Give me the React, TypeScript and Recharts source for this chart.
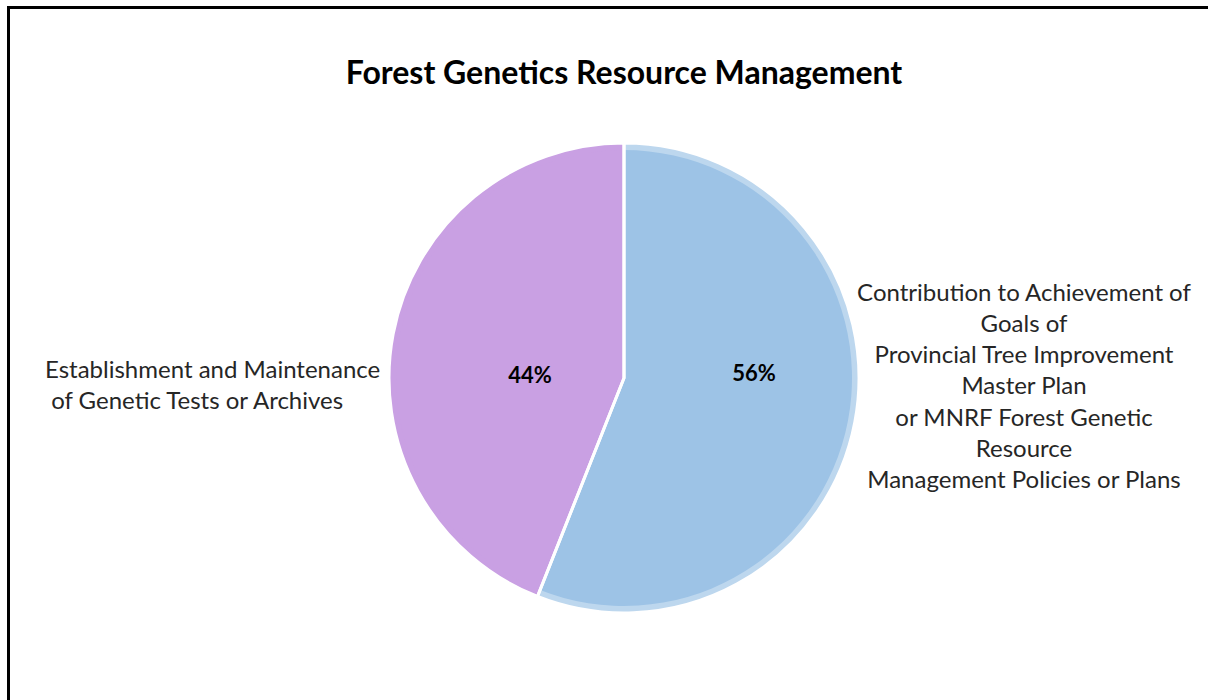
import { PieChart, Pie, Cell } from 'recharts';

// categories, in drawing order (clockwise from 12 o'clock)
const CATEGORIES = [
  'Contribution to Achievement of Goals of Provincial Tree Improvement Master Plan or MNRF Forest Genetic Resource Management Policies or Plans',
  'Establishment and Maintenance of Genetic Tests or Archives',
];
const SHARES = [56, 44];
const PERCENT_LABELS = ['56%', '44%'];

// how the category names wrap in the picture
const NAME_LINES = [
  [
    'Contribution to Achievement of',
    'Goals of',
    'Provincial Tree Improvement',
    'Master Plan',
    'or MNRF Forest Genetic',
    'Resource',
    'Management Policies or Plans',
  ],
  ['Establishment and Maintenance', ' of Genetic Tests or Archives'],
];

const TITLE = 'Forest Genetics Resource Management';

const FILLS = ['#9DC3E6', '#C9A0E3'];
const RIMS = ['#BDD7EE', '#C9A0E3'];
const FONT = 'Lato, "Open Sans", sans-serif';
const LINE_H = 31.3;
const NAME_SIZE = 24;
const TEXT = '#262626';

// chart margin is 5, so the pie centre sits at (624, 378) on the page
const CX = 619;
const CY = 373;
const R = 232;

const chartData = CATEGORIES.map((name, i) => ({
  name,
  value: SHARES[i],
  pct: PERCENT_LABELS[i],
  lines: NAME_LINES[i],
}));

function SliceLabel(props: any) {
  const { cx, cy, index, payload } = props;
  const r = R;
  const lines: string[] = payload.lines;
  if (index === 0) {
    const x = cx + r + 168;
    const top = cy - 87;
    return (
      <g>
        <text x={cx + r * 0.56} y={cy - 6} textAnchor="middle" dominantBaseline="central"
          fontFamily={FONT} fontSize={22} fontWeight={700} fill="#000">
          {payload.pct}
        </text>
        {lines.map((l, i) => (
          <text key={i} x={x} y={top + i * LINE_H} textAnchor="middle" dominantBaseline="central"
            fontFamily={FONT} fontSize={NAME_SIZE} fill={TEXT}>
            {l}
          </text>
        ))}
      </g>
    );
  }
  const x = cx - r - 347;
  const top = cy - 10;
  return (
    <g>
      <text x={cx - r * 0.405} y={cy - 4} textAnchor="middle" dominantBaseline="central"
        fontFamily={FONT} fontSize={22} fontWeight={700} fill="#000">
        {payload.pct}
      </text>
      {lines.map((l, i) => (
        <text key={i} x={x} y={top + i * LINE_H} textAnchor="start" dominantBaseline="central"
          fontFamily={FONT} fontSize={NAME_SIZE} fill={TEXT} style={{ whiteSpace: 'pre' }}>
          {l}
        </text>
      ))}
    </g>
  );
}

export default function App() {
  return (
    <div style={{ position: 'absolute', left: 0, top: 0, width: 1208, height: 700, overflow: 'hidden', background: '#fff' }}>
      <div
        style={{
          position: 'absolute',
          left: 7,
          top: 6,
          width: 1300,
          height: 800,
          border: '3px solid #000',
          boxSizing: 'border-box',
        }}
      />
      <div style={{ position: 'absolute', left: 0, top: 0 }}>
        <PieChart width={1208} height={700}>
          <text x={624} y={71} textAnchor="middle" dominantBaseline="central"
            fontFamily={FONT} fontSize={32} fontWeight={700} fill="#000">
            {TITLE}
          </text>
          {/* slice bodies */}
          <Pie
            data={chartData}
            dataKey="value"
            cx={CX}
            cy={CY}
            outerRadius={R}
            startAngle={90}
            endAngle={-270}
            stroke="none"
            isAnimationActive={false}
            legendType="none"
          >
            {chartData.map((_, i) => (
              <Cell key={`cell-${i}`} fill={FILLS[i]} />
            ))}
          </Pie>
          {/* soft lighter rim on the outside edge */}
          <Pie
            data={chartData}
            dataKey="value"
            cx={CX}
            cy={CY}
            innerRadius={R - 4}
            outerRadius={R + 3}
            startAngle={90}
            endAngle={-270}
            stroke="none"
            isAnimationActive={false}
            legendType="none"
          >
            {chartData.map((_, i) => (
              <Cell key={`rim-${i}`} fill={RIMS[i]} />
            ))}
          </Pie>
          {/* white separators between slices, plus labels */}
          <Pie
            data={chartData}
            dataKey="value"
            cx={CX}
            cy={CY}
            outerRadius={R + 3}
            startAngle={90}
            endAngle={-270}
            fill="none"
            stroke="#FFFFFF"
            strokeWidth={3}
            label={SliceLabel}
            labelLine={false}
            isAnimationActive={false}
          >
            {chartData.map((_, i) => (
              <Cell key={`sep-${i}`} fill="none" />
            ))}
          </Pie>
        </PieChart>
      </div>
    </div>
  );
}
